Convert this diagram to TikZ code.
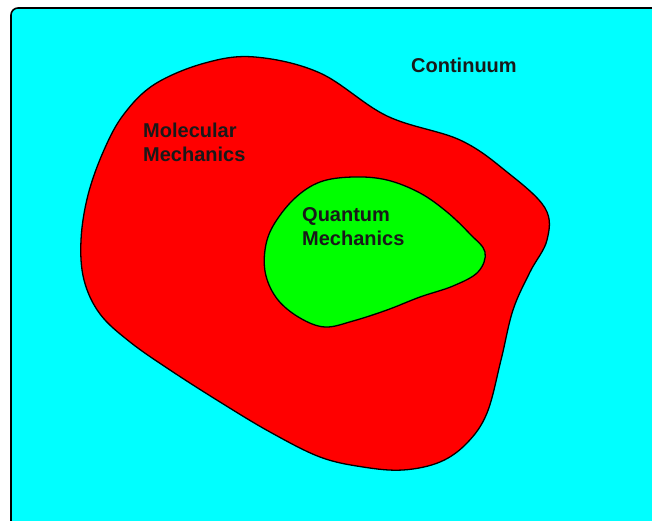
\documentclass[tikz,border=0pt]{standalone}
\usepackage{fontspec}
\setmainfont{Liberation Sans}
\usepackage{tikz}
\usetikzlibrary{positioning}
\definecolor{aqua}{RGB}{0,255,255}
\definecolor{pure red}{RGB}{255,0,0}
\definecolor{pure green}{RGB}{0,255,0}

\begin{document}
\begin{tikzpicture}[x=1pt,y=-1pt,
  region/.style={draw=black,line width=1.3pt},
  scale label/.style={font=\fontsize{20}{24}\selectfont\bfseries,text=black!90,inner sep=0pt,align=left,anchor=north west}]
\useasboundingbox (0,0) rectangle (652,521);
\clip (0,0) rectangle (652,521);
\draw[fill=aqua,draw=black,line width=1.6pt,rounded corners=7pt] (11,8) rectangle (680,550);
% molecular mechanics region
\draw[region,fill=pure red] plot[smooth cycle,tension=0.6] coordinates {
  (255,57) (320,73) (387,116) (460,140) (507,172) (545,208) (547,240)
  (530,272) (513,310) (501,360) (487,413) (467,443) (440,462) (403,470)
  (363,467) (320,457) (270,432) (220,402) (170,370) (130,342) (100,314)
  (84,280) (81,240) (88,195) (104,150) (124,114) (155,84) (205,63)};
% quantum mechanics region
\draw[region,fill=pure green] plot[smooth cycle,tension=0.6] coordinates {
  (320,182) (353,177) (387,180) (420,193) (447,212) (470,234) (485,252)
  (478,272) (453,286) (420,297) (387,310) (353,321) (325,327) (300,318)
  (278,300) (266,276) (265,250) (273,226) (294,199)};
\node[scale label] (continuum) at (411,58) {Continuum};
\node[scale label] (molecular) at (143,123) {Molecular\\Mechanics};
\node[scale label] (quantum) at (302,207) {Quantum\\Mechanics};
\end{tikzpicture}
\end{document}
